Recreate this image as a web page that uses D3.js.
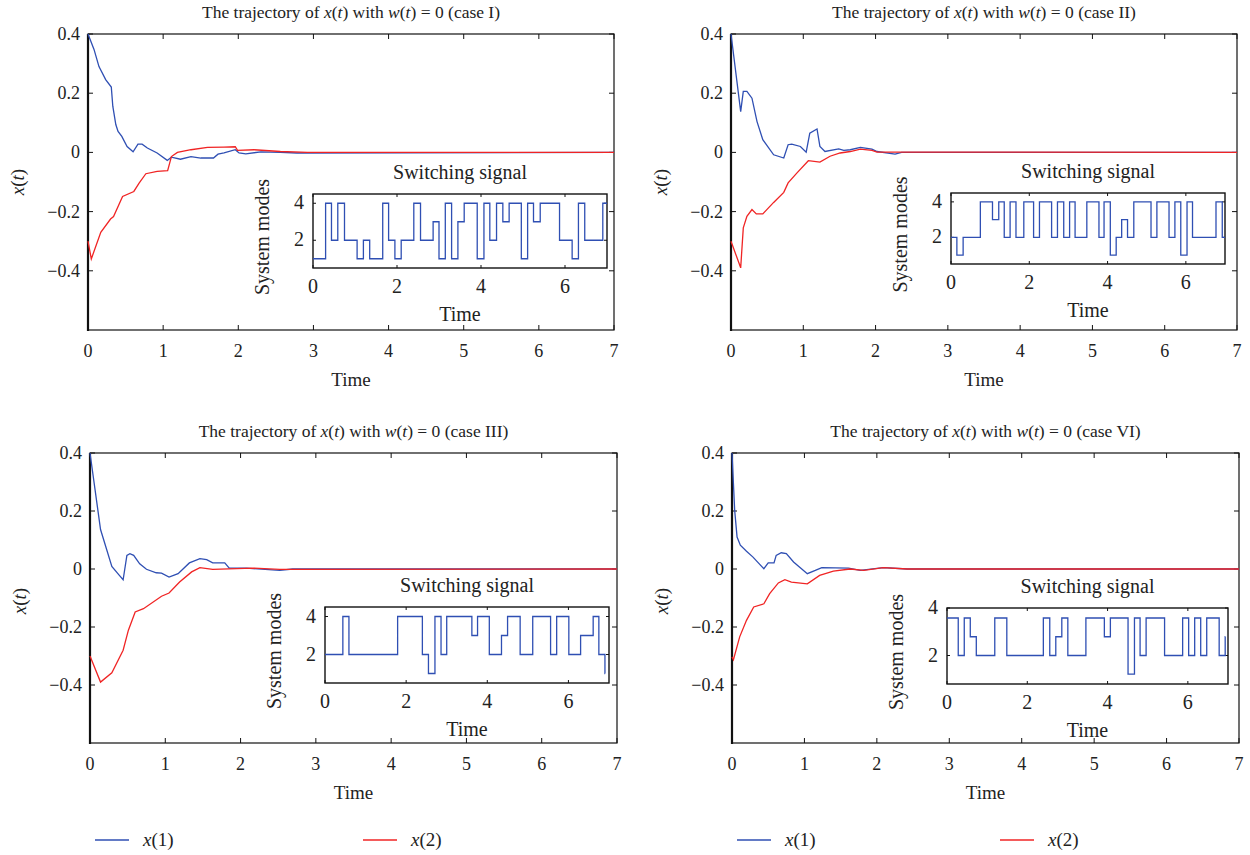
<!DOCTYPE html>
<html><head><meta charset="utf-8">
<script src="https://cdn.jsdelivr.net/npm/d3@7/dist/d3.min.js"></script>
<style>
body{margin:0;background:#fff;}
text{font-family:"Liberation Serif","DejaVu Serif",serif;fill:#222;}
</style></head>
<body><svg id="c" width="1250" height="855"></svg>
<script>
// ---------- data ----------
const caseNames = ["I","II","III","VI"];
const xTicks = [0,1,2,3,4,5,6,7];
const yTicks = [0.4,0.2,0,-0.2,-0.4];
const insetXTicks = [0,2,4,6];
const insetYTicks = [2,4];

// case I
const t1_case1 = [0,0.08,0.146,0.235,0.31,0.33,0.37,0.40,0.45,0.52,0.60,0.665,0.72,0.79,0.92,1.055,1.11,1.23,1.37,1.50,1.67,1.73,1.81,1.96,2.01,2.10,2.30,2.56,2.78,7];
const x1_case1 = [0.4,0.348,0.29,0.246,0.221,0.156,0.094,0.071,0.054,0.02,0.002,0.028,0.028,0.015,-0.002,-0.027,-0.016,-0.023,-0.014,-0.019,-0.019,-0.006,-0.002,0.009,-0.002,-0.005,0.002,0,-0.002,0];
const t2_case1 = [0,0.044,0.17,0.30,0.34,0.46,0.61,0.68,0.77,0.92,1.06,1.11,1.19,1.37,1.59,1.81,1.96,1.99,2.21,2.56,2.92,7];
const x2_case1 = [-0.3,-0.36,-0.27,-0.225,-0.217,-0.149,-0.132,-0.104,-0.072,-0.064,-0.062,-0.014,0,0.009,0.017,0.018,0.019,0.007,0.009,0.003,0,0];
// case II
const t1_case2 = [0,0.134,0.17,0.22,0.29,0.36,0.44,0.59,0.73,0.79,0.84,0.96,1.04,1.09,1.19,1.23,1.30,1.49,1.56,1.65,1.79,1.95,2.02,2.27,2.36,7];
const x1_case2 = [0.4,0.138,0.206,0.206,0.183,0.104,0.043,-0.008,-0.019,0.026,0.028,0.02,0.001,0.065,0.079,0.02,0.003,0.012,0.007,0.009,0.017,0.011,0.003,-0.006,0,0];
const t2_case2 = [0,0.134,0.17,0.22,0.29,0.35,0.44,0.59,0.73,0.79,0.91,1.07,1.23,1.37,1.51,1.65,1.79,1.95,2.02,2.34,7];
const x2_case2 = [-0.3,-0.39,-0.255,-0.216,-0.193,-0.208,-0.208,-0.169,-0.135,-0.103,-0.07,-0.028,-0.033,-0.013,-0.002,0.003,0.011,0.007,0.001,0.001,0];
// case III
const t1_case3 = [0,0.14,0.29,0.39,0.44,0.49,0.53,0.58,0.66,0.75,0.88,0.95,1.05,1.17,1.32,1.46,1.55,1.63,1.79,1.85,2.08,2.52,2.69,7];
const x1_case3 = [0.4,0.136,0.009,-0.022,-0.037,0.047,0.053,0.047,0.018,-0.001,-0.013,-0.014,-0.028,-0.016,0.021,0.036,0.032,0.021,0.021,0.003,0.003,-0.005,0,0];
const t2_case3 = [0,0.14,0.29,0.44,0.51,0.60,0.71,0.95,1.05,1.19,1.35,1.46,1.63,2.16,2.52,7];
const x2_case3 = [-0.3,-0.39,-0.358,-0.28,-0.211,-0.148,-0.137,-0.094,-0.083,-0.045,-0.01,0.005,-0.001,0.003,-0.001,0];
// case VI
const t1_case4 = [0,0.037,0.07,0.115,0.2,0.29,0.44,0.5,0.58,0.61,0.68,0.75,0.85,1.04,1.15,1.24,1.61,1.77,2.09,2.42,7];
const x1_case4 = [0.4,0.202,0.11,0.082,0.061,0.041,0.001,0.021,0.021,0.047,0.056,0.053,0.024,-0.016,-0.005,0.005,0.003,-0.005,0.005,0,0];
const t2_case4 = [0,0.02,0.106,0.2,0.30,0.44,0.52,0.64,0.73,0.82,1.04,1.21,1.40,1.63,1.82,2.09,2.42,7];
const x2_case4 = [-0.303,-0.313,-0.234,-0.177,-0.131,-0.12,-0.085,-0.048,-0.037,-0.045,-0.051,-0.022,-0.007,0,-0.005,0.005,0,0];

// switching signals (start time of each interval, mode, end time)
const sigT_case1 = [0,0.30,0.44,0.59,0.75,1.05,1.20,1.35,1.66,1.80,1.95,2.10,2.40,2.56,2.86,3.0,3.15,3.30,3.45,3.60,3.91,4.07,4.21,4.37,4.52,4.67,4.96,5.11,5.25,5.41,5.87,6.17,6.32,6.47,6.90];
const sigM_case1 = [1,4,2,4,2,1,2,1,4,2,1,2,4,2,3,1,4,1,3,4,1,4,2,4,3,4,1,4,3,4,2,1,4,2,4];
const sigEnd_case1 = 7.0;
const sigT_case2 = [0,0.15,0.31,0.75,1.06,1.22,1.36,1.51,1.66,1.86,2.11,2.26,2.57,2.72,2.88,3.03,3.17,3.47,3.78,3.91,4.07,4.22,4.36,4.51,4.67,5.11,5.26,5.57,5.72,5.87,6.03,6.17,6.77,6.93];
const sigM_case2 = [2,1,2,4,3,4,2,4,2,4,2,4,2,4,2,4,2,4,2,4,1,2,3,2,4,2,4,2,4,1,4,2,4,2];
const sigEnd_case2 = 7.0;
const sigT_case3 = [0,0.44,0.59,1.79,2.40,2.55,2.71,2.86,3.0,3.62,3.76,4.05,4.35,4.50,4.81,5.12,5.56,5.71,6.01,6.30,6.61,6.75,6.90];
const sigM_case3 = [2,4,2,4,2,1,4,2,4,3,4,2,3,4,2,4,2,4,2,3,4,2,1];
const sigEnd_case3 = 6.905;
const sigT_case4 = [0,0.28,0.43,0.58,0.73,1.19,1.49,2.40,2.56,2.71,2.86,3.01,3.46,3.92,4.07,4.51,4.67,4.81,4.96,5.42,5.87,6.02,6.17,6.32,6.47,6.78,6.93];
const sigM_case4 = [3.58,2,3.58,2.79,2,3.58,2,3.58,2,2.79,3.58,2,3.58,2.79,3.58,1.22,3.58,2,3.58,2,3.58,2,3.58,2,3.58,2,2.79];
const sigEnd_case4 = 6.935;

const legendLabels = ["1","2"];

// ---------- layout ----------
const blue = "#2f4fb3", red = "#f02424";
const panels = [
  {x0:88, x1:614, y0:34, y1:330, name:caseNames[0], t1:t1_case1, v1:x1_case1, t2:t2_case1, v2:x2_case1,
   sT:sigT_case1, sM:sigM_case1, sE:sigEnd_case1, ins:{x0:313,x1:607,y0:194,y1:268, dom:[0.5,4.5]}},
  {x0:731, x1:1237, y0:34, y1:330, name:caseNames[1], t1:t1_case2, v1:x1_case2, t2:t2_case2, v2:x2_case2,
   sT:sigT_case2, sM:sigM_case2, sE:sigEnd_case2, ins:{x0:951,x1:1225,y0:193,y1:264, dom:[0.5,4.5]}},
  {x0:90, x1:617, y0:453, y1:743, name:caseNames[2], t1:t1_case3, v1:x1_case3, t2:t2_case3, v2:x2_case3,
   sT:sigT_case3, sM:sigM_case3, sE:sigEnd_case3, ins:{x0:325,x1:609,y0:607,y1:683, dom:[0.5,4.5]}},
  {x0:732, x1:1239, y0:453, y1:743, name:caseNames[3], t1:t1_case4, v1:x1_case4, t2:t2_case4, v2:x2_case4,
   sT:sigT_case4, sM:sigM_case4, sE:sigEnd_case4, ins:{x0:947,x1:1228,y0:608,y1:684, dom:[0.8,4.0]}}
];

const svg = d3.select("#c");

function italicLabel(sel, parts){
  parts.forEach(p=>{
    sel.append("tspan").text(p[0]).style("font-style", p[1]?"italic":"normal");
  });
}

panels.forEach(p=>{
  const g = svg.append("g");
  const x = d3.scaleLinear().domain([0,7]).range([p.x0,p.x1]);
  const y = d3.scaleLinear().domain([-0.6,0.4]).range([p.y1,p.y0]);

  // box
  g.append("rect").attr("x",p.x0).attr("y",p.y0).attr("width",p.x1-p.x0).attr("height",p.y1-p.y0)
    .attr("fill","none").attr("stroke","#111").attr("stroke-width",1.2);
  g.append("line").attr("x1",p.x0).attr("x2",p.x0).attr("y1",p.y0).attr("y2",p.y1+1)
    .attr("stroke","#111").attr("stroke-width",2.2);

  // ticks inward, all sides
  xTicks.forEach(t=>{
    g.append("line").attr("x1",x(t)).attr("x2",x(t)).attr("y1",p.y1).attr("y2",p.y1-5).attr("stroke","#111");
    g.append("line").attr("x1",x(t)).attr("x2",x(t)).attr("y1",p.y0).attr("y2",p.y0+5).attr("stroke","#111");
    g.append("text").attr("x",x(t)).attr("y",p.y1+27).attr("text-anchor","middle")
      .attr("font-size",18).text(d3.format("d")(t));
  });
  yTicks.forEach(v=>{
    g.append("line").attr("x1",p.x0).attr("x2",p.x0+5).attr("y1",y(v)).attr("y2",y(v)).attr("stroke","#111");
    g.append("line").attr("x1",p.x1).attr("x2",p.x1-5).attr("y1",y(v)).attr("y2",y(v)).attr("stroke","#111");
    g.append("text").attr("x",p.x0-8).attr("y",y(v)+6).attr("text-anchor","end")
      .attr("font-size",18).text(v===0?"0":d3.format(".1f")(v));
  });
  g.append("text").attr("x",(p.x0+p.x1)/2).attr("y",p.y1+56).attr("text-anchor","middle")
    .attr("font-size",19).text("Time");
  const yl = g.append("text").attr("transform",`translate(${p.x0-64},${p.y0+148}) rotate(-90)`)
    .attr("text-anchor","middle").attr("font-size",19);
  italicLabel(yl,[["x",1],["(",0],["t",1],[")",0]]);

  const ti = g.append("text").attr("x",(p.x0+p.x1)/2).attr("y",p.y0-16).attr("text-anchor","middle").attr("font-size",17.5);
  italicLabel(ti,[["The trajectory of ",0],["x",1],["(",0],["t",1],[") with ",0],["w",1],["(",0],["t",1],[") = 0 (case "+p.name+")",0]]);

  // curves
  const line = d3.line().x(d=>x(d[0])).y(d=>y(d[1]));
  g.append("path").datum(p.t1.map((t,i)=>[t,p.v1[i]])).attr("d",line)
    .attr("fill","none").attr("stroke",blue).attr("stroke-width",1.3);
  g.append("path").datum(p.t2.map((t,i)=>[t,p.v2[i]])).attr("d",line)
    .attr("fill","none").attr("stroke",red).attr("stroke-width",1.3);

  // inset
  const I = p.ins;
  const xi = d3.scaleLinear().domain([0,7]).range([I.x0,I.x1]);
  const yi = d3.scaleLinear().domain(I.dom).range([I.y1,I.y0]);
  g.append("rect").attr("x",I.x0).attr("y",I.y0).attr("width",I.x1-I.x0).attr("height",I.y1-I.y0)
    .attr("fill","#fff").attr("stroke","#111").attr("stroke-width",1.4);
  insetXTicks.forEach(t=>{
    g.append("line").attr("x1",xi(t)).attr("x2",xi(t)).attr("y1",I.y1).attr("y2",I.y1-3).attr("stroke","#111");
    g.append("line").attr("x1",xi(t)).attr("x2",xi(t)).attr("y1",I.y0).attr("y2",I.y0+3).attr("stroke","#111");
    g.append("text").attr("x",xi(t)).attr("y",I.y1+25).attr("text-anchor","middle").attr("font-size",20).text(t);
  });
  insetYTicks.forEach(v=>{
    g.append("line").attr("x1",I.x0).attr("x2",I.x0+3).attr("y1",yi(v)).attr("y2",yi(v)).attr("stroke","#111");
    g.append("line").attr("x1",I.x1).attr("x2",I.x1-3).attr("y1",yi(v)).attr("y2",yi(v)).attr("stroke","#111");
    g.append("text").attr("x",I.x0-9).attr("y",yi(v)+6).attr("text-anchor","end").attr("font-size",20).text(v);
  });
  g.append("text").attr("x",(I.x0+I.x1)/2).attr("y",I.y0-15).attr("text-anchor","middle").attr("font-size",20).text("Switching signal");
  g.append("text").attr("x",(I.x0+I.x1)/2).attr("y",I.y1+53).attr("text-anchor","middle").attr("font-size",20).text("Time");
  g.append("text").attr("transform",`translate(${I.x0-44},${(I.y0+I.y1)/2+6}) rotate(-90)`)
    .attr("text-anchor","middle").attr("font-size",20).text("System modes");
  const sig = p.sT.map((t,i)=>[t,p.sM[i]]);
  sig.push([p.sE, p.sM[p.sM.length-1]]);
  const sline = d3.line().x(d=>xi(d[0])).y(d=>yi(d[1])).curve(d3.curveStepAfter);
  g.append("path").datum(sig).attr("d",sline).attr("fill","none").attr("stroke",blue).attr("stroke-width",1.3);
});

// legends
const legendPos = [[95,363],[737,1000]];
legendPos.forEach(lp=>{
  [blue,red].forEach((c,i)=>{
    svg.append("line").attr("x1",lp[i]).attr("x2",lp[i]+34).attr("y1",840).attr("y2",840)
      .attr("stroke",c).attr("stroke-width",1.6);
    const t = svg.append("text").attr("x",lp[i]+48).attr("y",846).attr("font-size",19);
    italicLabel(t,[["x",1],["("+legendLabels[i]+")",0]]);
  });
});
</script></body></html>
